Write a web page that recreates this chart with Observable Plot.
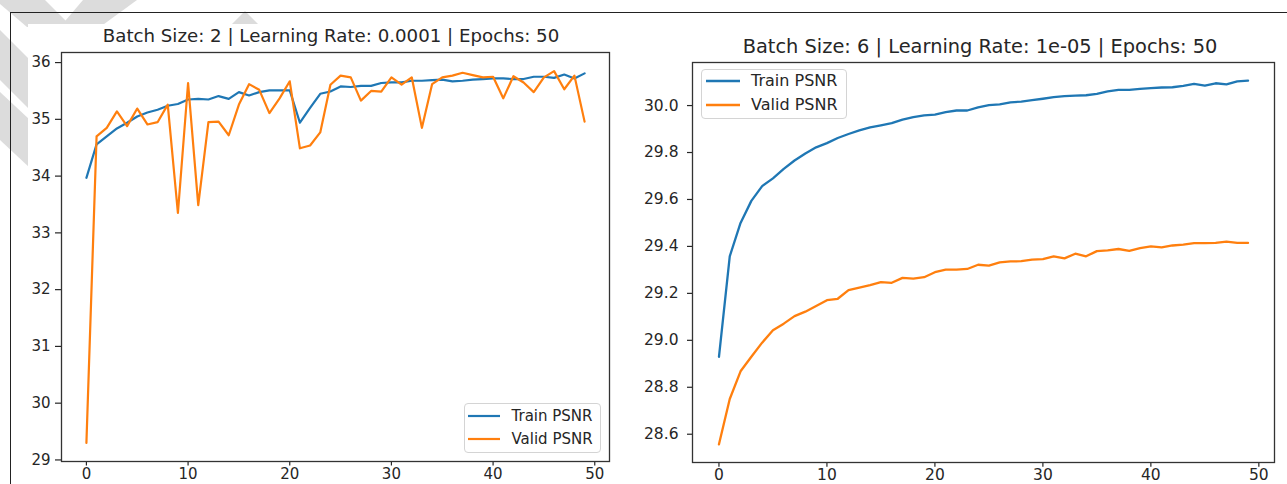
<!DOCTYPE html>
<html>
<head>
<meta charset="utf-8">
<script src="https://cdn.jsdelivr.net/npm/d3@7"></script>
<script src="https://cdn.jsdelivr.net/npm/@observablehq/plot@0.6"></script>
<style>
  html, body { margin: 0; padding: 0; background: #fff; }
  #page { position: relative; width: 1287px; height: 484px; overflow: hidden; font-family: "DejaVu Sans", sans-serif; color: #262626; }
  .abs { position: absolute; }
  #whitebox { left: 28px; top: 24px; width: 1300px; height: 500px; background: #fff; }
  #border { left: 10px; top: 12px; width: 1300px; height: 500px; border-top: 1.5px solid #222; border-left: 1.5px solid #222; }
  .title { white-space: nowrap; text-align: center; line-height: 1; color: #262626; }
  .legend { border: 1px solid #d4d4d4; border-radius: 4px; background: rgba(255,255,255,0.85); box-sizing: border-box; }
  .legend .row { position: absolute; display: flex; align-items: center; white-space: nowrap; }
  .legend .row span { display: inline-block; }
</style>
</head>
<body>
<div id="page">
  <svg class="abs" width="1287" height="484" style="left:0;top:0">
    <g fill="#dcdcdc">
      <polygon points="0,0 45,0 72,27 27,27 0,4"></polygon>
      <polygon points="83,0 137,0 100,27 60,27"></polygon>
      <polygon points="245,11 263,29 227,29"></polygon>
      <polygon points="0,30 0,80 30,110 30,60"></polygon>
      <polygon points="0,92 0,140 30,168 30,120"></polygon>
    </g>
  </svg>
  <div id="whitebox" class="abs"></div>
  <div id="border" class="abs"></div>
  <div id="left" class="abs" style="left:0;top:0"></div>
  <div id="right" class="abs" style="left:640px;top:0"></div>
  <div id="titleL" class="abs title" style="left:0;width:662px;top:26.5px;font-size:18.2px"></div>
  <div id="titleR" class="abs title" style="left:640px;width:680px;top:37px;font-size:19.4px"></div>
  <div id="legendL" class="abs legend" style="left:464px;top:403px;width:137px;height:50px"></div>
  <div id="legendR" class="abs legend" style="left:701px;top:69px;width:146px;height:50px"></div>
</div>
<script>
// ---- data ----
const titleLeft = "Batch Size: 2 | Learning Rate: 0.0001 | Epochs: 50";
const titleRight = "Batch Size: 6 | Learning Rate: 1e-05 | Epochs: 50";
const seriesNames = ["Train PSNR", "Valid PSNR"];
const seriesColors = ["#1f77b4", "#ff7f0e"];

const trainLeft = [33.97, 34.56, 34.70, 34.84, 34.94, 35.05, 35.12, 35.17, 35.24, 35.27,
  35.35, 35.36, 35.35, 35.41, 35.36, 35.48, 35.42, 35.48, 35.51, 35.51,
  35.51, 34.94, 35.20, 35.45, 35.49, 35.58, 35.57, 35.59, 35.59, 35.64,
  35.65, 35.65, 35.68, 35.68, 35.69, 35.70, 35.67, 35.68, 35.70, 35.71,
  35.72, 35.72, 35.71, 35.71, 35.75, 35.75, 35.73, 35.79, 35.72, 35.81];
const validLeft = [29.30, 34.70, 34.85, 35.14, 34.88, 35.19, 34.91, 34.95, 35.26, 33.35,
  35.64, 33.49, 34.95, 34.96, 34.72, 35.26, 35.62, 35.52, 35.11, 35.37,
  35.67, 34.49, 34.54, 34.77, 35.61, 35.77, 35.74, 35.33, 35.50, 35.49,
  35.74, 35.61, 35.74, 34.85, 35.62, 35.74, 35.77, 35.82, 35.78, 35.74,
  35.75, 35.37, 35.76, 35.65, 35.48, 35.74, 35.85, 35.53, 35.77, 34.96];
const trainRight = [28.930, 29.358, 29.500, 29.594, 29.657, 29.690, 29.730, 29.766, 29.796, 29.822,
  29.840, 29.862, 29.879, 29.894, 29.907, 29.916, 29.925, 29.940, 29.951, 29.958,
  29.961, 29.972, 29.979, 29.979, 29.992, 30.002, 30.005, 30.014, 30.017, 30.023,
  30.029, 30.036, 30.040, 30.042, 30.044, 30.050, 30.060, 30.067, 30.067, 30.071,
  30.074, 30.077, 30.078, 30.084, 30.092, 30.085, 30.095, 30.090, 30.103, 30.106];
const validRight = [28.557, 28.750, 28.868, 28.930, 28.990, 29.043, 29.071, 29.103, 29.122, 29.146,
  29.171, 29.177, 29.214, 29.224, 29.235, 29.248, 29.245, 29.266, 29.263, 29.269,
  29.290, 29.301, 29.301, 29.304, 29.322, 29.318, 29.332, 29.336, 29.337, 29.344,
  29.346, 29.358, 29.349, 29.369, 29.358, 29.380, 29.383, 29.389, 29.381, 29.393,
  29.400, 29.396, 29.404, 29.408, 29.414, 29.414, 29.415, 29.420, 29.415, 29.415];

const xTicks = [0, 10, 20, 30, 40, 50];
const yTicksLeft = [29, 30, 31, 32, 33, 34, 35, 36];
const yTicksRight = [28.6, 28.8, 29.0, 29.2, 29.4, 29.6, 29.8, 30.0];

// matplotlib-like 5% margins
function padded(lo, hi) { const m = (hi - lo) * 0.05; return [lo - m, hi + m]; }
function xDomain(arr) { return padded(0, arr.length - 1); }
function yDomain(...arrs) { const all = arrs.flat(); return padded(d3.min(all), d3.max(all)); }

function chart({train, valid, width, height, margins, yTicks, yFormat, font, ySize, yPad, xSize, xPad, sw}) {
  return Plot.plot({
    width, height,
    marginLeft: margins[0], marginRight: margins[1], marginTop: margins[2], marginBottom: margins[3],
    x: {domain: xDomain(train)},
    y: {domain: yDomain(train, valid)},
    style: {fontFamily: "DejaVu Sans", fontSize: font + "px", color: "#262626", background: "transparent", overflow: "visible"},
    marks: [
      Plot.axisX({ticks: xTicks, tickSize: xSize, tickPadding: xPad, label: null, strokeWidth: 1.2}),
      Plot.axisY({ticks: yTicks, tickSize: ySize, tickPadding: yPad, label: null, tickFormat: yFormat, strokeWidth: 1.2}),
      Plot.lineY(train, {y: d => d, stroke: seriesColors[0], strokeWidth: sw}),
      Plot.lineY(valid, {y: d => d, stroke: seriesColors[1], strokeWidth: sw}),
      Plot.frame({stroke: "#333", strokeWidth: 1.3})
    ]
  });
}

document.getElementById("left").append(chart({
  train: trainLeft, valid: validLeft, width: 640, height: 484,
  margins: [61, 31, 52, 23], yTicks: yTicksLeft, yFormat: d3.format("d"),
  font: 15, ySize: 6, yPad: 5, xSize: 4.5, xPad: 2.5, sw: 2.2
}));
document.getElementById("right").append(chart({
  train: trainRight, valid: validRight, width: 647, height: 484,
  margins: [52, 13, 62, 22], yTicks: yTicksRight, yFormat: d3.format(".1f"),
  font: 15.5, ySize: 5, yPad: 9, xSize: 4.7, xPad: 2, sw: 2.3
}));

document.getElementById("titleL").textContent = titleLeft;
document.getElementById("titleR").textContent = titleRight;

function legend(id, opts) {
  const box = document.getElementById(id);
  seriesNames.forEach((name, i) => {
    const row = document.createElement("div");
    row.className = "row";
    row.style.left = opts.lineLeft + "px";
    row.style.top = (opts.rowTops[i]) + "px";
    row.style.height = "20px";
    row.style.fontSize = opts.font + "px";
    const sw = document.createElementNS("http://www.w3.org/2000/svg", "svg");
    sw.setAttribute("width", opts.lineLen);
    sw.setAttribute("height", 20);
    const ln = document.createElementNS("http://www.w3.org/2000/svg", "line");
    ln.setAttribute("x1", 0); ln.setAttribute("x2", opts.lineLen);
    ln.setAttribute("y1", 10); ln.setAttribute("y2", 10);
    ln.setAttribute("stroke", seriesColors[i]); ln.setAttribute("stroke-width", opts.sw);
    sw.append(ln);
    const t = document.createElement("span");
    t.textContent = name;
    t.style.marginLeft = opts.gap + "px";
    t.style.lineHeight = "20px";
    row.append(sw, t);
    box.append(row);
  });
}
// positions relative to legend box
legend("legendL", {lineLeft: 3, rowTops: [1.7, 25], lineLen: 32, gap: 11.5, font: 15, sw: 2.2});
legend("legendR", {lineLeft: 4, rowTops: [1, 24.7], lineLen: 34, gap: 11, font: 16, sw: 2.3});
</script>
</body>
</html>
